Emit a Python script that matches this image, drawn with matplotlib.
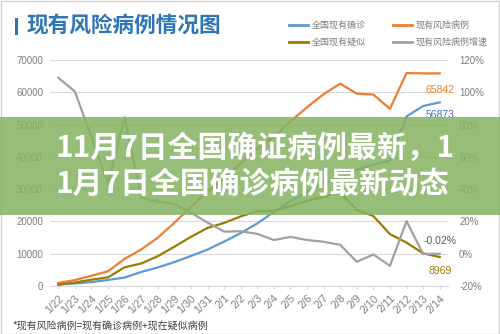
import matplotlib
matplotlib.use("Agg")
import matplotlib.pyplot as plt
from matplotlib.patches import Rectangle
from matplotlib.lines import Line2D
from matplotlib.ticker import FuncFormatter, MultipleLocator

plt.rcParams['font.family'] = ['Noto Sans CJK SC', 'DejaVu Sans']

dates = ["1/22", "1/23", "1/24", "1/25", "1/26", "1/27", "1/28", "1/29", "1/30", "1/31",
         "2/1", "2/2", "2/3", "2/4", "2/5", "2/6", "2/7", "2/8", "2/9", "2/10",
         "2/11", "2/12", "2/13", "2/14"]
confirmed = [526, 771, 1208, 1870, 2613, 4349, 5739, 7417, 9308, 11289,
             13748, 16369, 19381, 22942, 26302, 28985, 31774, 33738, 35982, 37626,
             38800, 52526, 55748, 56873]
suspected = [393, 1072, 1965, 2684, 5794, 6973, 9239, 12167, 15238, 17988,
             19544, 21558, 23214, 23260, 24702, 26359, 27657, 28942, 23589, 21675,
             16067, 13435, 10109, 8969]
risk = [919, 1843, 3173, 4554, 8407, 11322, 14978, 19584, 24546, 29277,
        33292, 37927, 42595, 46202, 51004, 55344, 59431, 62680, 59571, 59301,
        54867, 65961, 65857, 65842]
growth = [109.0, 100.5, 72.2, 43.5, 84.6, 34.7, 32.3, 30.8, 25.3, 19.3,
          13.7, 13.9, 12.3, 8.5, 10.4, 8.5, 7.4, 5.5, -5.0, -0.45,
          -7.5, 20.2, -0.16, -0.02]
series_names = ["全国现有确诊", "现有风险病例", "全国现有疑似", "现有风险病例增速"]
colors = ["#5B9BD5", "#ED7D31", "#9C7A00", "#A0A0A0"]

W, H = 500, 334
fig = plt.figure(figsize=(5, 3.34), dpi=100)

def fx(x):
    return x / W

def fy(y):
    return 1 - y / H

ax = fig.add_axes([fx(50), fy(286), (448 - 50) / W, (286 - 60) / H])
ax2 = ax.twinx()
x = list(range(len(dates)))

ax.plot(x, confirmed, color=colors[0], lw=1.6, zorder=3)
ax.plot(x, risk, color=colors[1], lw=1.6, zorder=3)
ax.plot(x, suspected, color=colors[2], lw=1.6, zorder=3)
ax2.plot(x, growth, color=colors[3], lw=1.6, zorder=3)

ax.set_xlim(-0.5, len(dates) - 0.5)
ax.set_ylim(0, 70000)
ax.yaxis.set_major_locator(MultipleLocator(10000))
ax2.set_ylim(-20, 120)
ax2.yaxis.set_major_locator(MultipleLocator(20))
ax2.yaxis.set_major_formatter(FuncFormatter(lambda v, p: f"{int(round(v))}%"))

ax.grid(axis='y', color='#D9D9D9', lw=0.8)
ax.set_axisbelow(True)
for a in (ax, ax2):
    for s in a.spines.values():
        s.set_visible(False)
ax.spines['bottom'].set_visible(True)
ax.spines['bottom'].set_color('#D9D9D9')

ax.set_xticks(x)
ax.set_xticklabels(dates, rotation=45, ha='right', rotation_mode='anchor',
                   fontsize=7.8, color='#7F7F7F', family=['Liberation Sans', 'DejaVu Sans'])
ax.tick_params(axis='x', length=2, color='#D9D9D9', pad=3)
ax.tick_params(axis='y', length=0, labelsize=7, labelcolor='#7F7F7F', pad=5)
ax2.tick_params(axis='y', length=0, labelsize=7, labelcolor='#7F7F7F', pad=8)
for lab in ax.get_yticklabels() + ax2.get_yticklabels():
    lab.set_family(['Liberation Sans', 'DejaVu Sans'])

numfont = ['Liberation Sans', 'DejaVu Sans']
ax.annotate(f"{risk[-1]}", (x[-1], risk[-1]), xytext=(0, -12), textcoords='offset points',
            ha='center', va='center', fontsize=7.5, color=colors[1], family=numfont)
ax.annotate(f"{confirmed[-1]}", (x[-1], confirmed[-1]), xytext=(0, -9), textcoords='offset points',
            ha='center', va='center', fontsize=7.5, color='#4472C4', family=numfont)
ax.annotate(f"{suspected[-1]}", (x[-1], suspected[-1]), xytext=(0, -10), textcoords='offset points',
            ha='center', va='center', fontsize=7.5, color=colors[2], family=numfont)
ax2.annotate(f"{growth[-1]:.2f}%", (x[-1], growth[-1]), xytext=(0, 9), textcoords='offset points',
             ha='center', va='center', fontsize=7.5, color='#595959', family=numfont)

# title
fig.add_artist(Rectangle((fx(14.5), fy(35)), 3 / W, 17 / H, transform=fig.transFigure,
                         facecolor='#2E75B6', edgecolor='none'))
fig.text(fx(27), fy(26), "现有风险病例情况图", fontsize=15.6, fontweight='bold',
         color='#2E75B6', ha='left', va='center')

# legend
leg_pos = [(289, 25), (393, 25), (289, 42), (393, 42)]
for (lx, ly), name, c in zip(leg_pos, series_names, colors):
    fig.add_artist(Line2D([fx(lx), fx(lx + 19)], [fy(ly), fy(ly)], transform=fig.transFigure,
                          color=c, lw=2))
    fig.text(fx(lx + 23), fy(ly), name, fontsize=6.5, color='#7F7F7F', ha='left', va='center')

# footnote
fig.text(fx(12), fy(326), "*现有风险病例=现有确诊病例+现在疑似病例", fontsize=7.2,
         color='#404040', ha='left', va='center')

# border
fig.add_artist(Rectangle((0.001, 0.001), 0.997, 0.997, transform=fig.transFigure,
                         facecolor='none', edgecolor='#D0D0D0', lw=1))

# banner overlay
fig.add_artist(Rectangle((0, fy(215)), 1, (215 - 117) / H, transform=fig.transFigure,
                         facecolor=(132 / 255, 179 / 255, 96 / 255), alpha=0.85,
                         edgecolor='none', zorder=10))
fig.text(fx(55), fy(148), "11月7日全国确证病例最新，1", fontsize=21.5, fontweight='bold',
         color='white', ha='left', va='center', zorder=11)
fig.text(fx(56), fy(184), "1月7日全国确诊病例最新动态", fontsize=21.5, fontweight='bold',
         color='white', ha='left', va='center', zorder=11)

fig.savefig("out.png", dpi=100)
